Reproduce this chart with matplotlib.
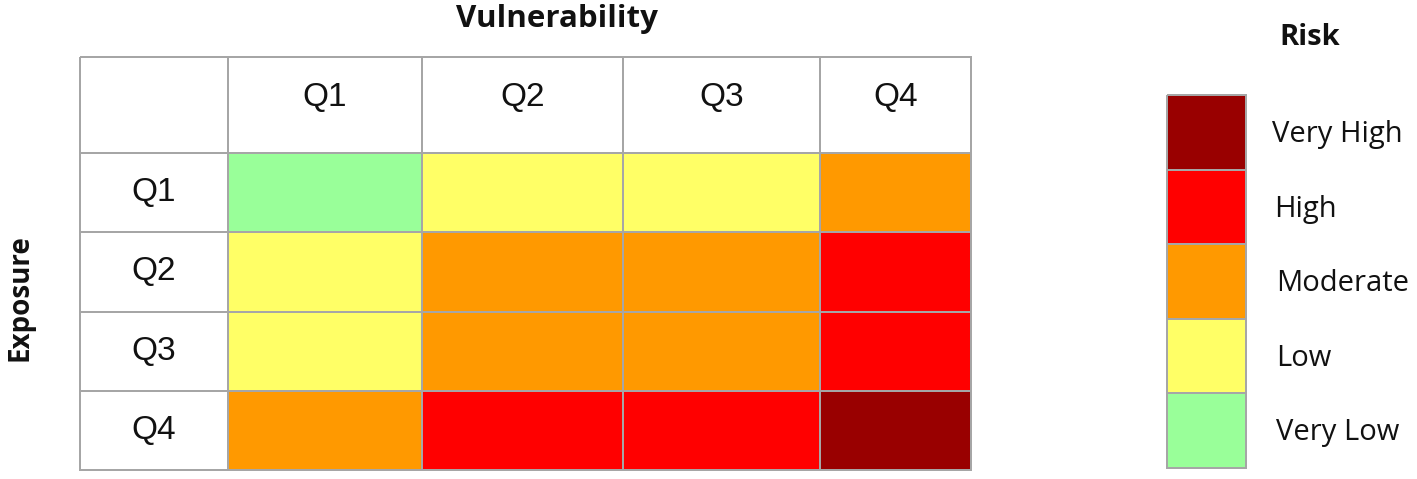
import numpy as np
import matplotlib.pyplot as plt
from matplotlib.colors import ListedColormap

# Datos de la matriz de riesgo
vuln_labels = ["Q1", "Q2", "Q3", "Q4"]
expo_labels = ["Q1", "Q2", "Q3", "Q4"]
risk_levels = ["Very Low", "Low", "Moderate", "High", "Very High"]
risk_colors = ["#99FF99", "#FFFF66", "#FF9900", "#FF0000", "#990000"]
# filas = Exposure Q1..Q4, columnas = Vulnerability Q1..Q4 (indice en risk_levels)
risk_matrix = [
    [0, 1, 1, 2],
    [1, 2, 2, 3],
    [1, 2, 2, 3],
    [2, 3, 3, 4],
]

# Maquetación en píxeles de la figura
col_edges = [80, 228, 422, 623, 820, 971]
row_edges = [57, 153, 232, 312, 391, 470]
leg_x = [1167, 1246]
leg_y = [95, 170, 244, 319, 393, 468]
grid_color = "#A6A6A6"
q_font = "Liberation Sans"
txt_font = "Open Sans"

fig = plt.figure(figsize=(14.17, 4.79), dpi=100)
ax = fig.add_axes([0, 0, 1, 1])
ax.set_xlim(0, 1417)
ax.set_ylim(479, 0)
ax.axis("off")

# Tabla completa: -1 = celda de cabecera (blanca)
full = np.full((5, 5), -1)
full[1:, 1:] = np.array(risk_matrix)
cmap = ListedColormap(["white"] + risk_colors)
ax.pcolormesh(col_edges, row_edges, full, cmap=cmap, vmin=-1.5, vmax=4.5,
              edgecolors=grid_color, linewidth=1.4)

cx = [(a + b) / 2 for a, b in zip(col_edges[:-1], col_edges[1:])]
cy = [(a + b) / 2 for a, b in zip(row_edges[:-1], row_edges[1:])]
for i, lab in enumerate(vuln_labels):
    ax.text(cx[i + 1], cy[0] - 8, lab, ha="center", va="center",
            fontsize=24, family=q_font, color="#111111")
for i, lab in enumerate(expo_labels):
    ax.text(cx[0], cy[i + 1], lab, ha="center", va="center",
            fontsize=24, family=q_font, color="#111111")

ax.text(557, 19, "Vulnerability", ha="center", va="center", fontsize=22.5,
        fontweight="bold", family=txt_font, color="#111111")
ax.text(20, 298, "Exposure", ha="center", va="center", fontsize=20,
        fontweight="bold", family=txt_font, rotation=90, color="#111111")

# Leyenda de riesgo (de Very High arriba a Very Low abajo)
leg_vals = np.arange(len(risk_levels))[::-1].reshape(-1, 1)
ax.pcolormesh(leg_x, leg_y, leg_vals, cmap=ListedColormap(risk_colors),
              vmin=-0.5, vmax=4.5, edgecolors=grid_color, linewidth=1.4)
ly = [(a + b) / 2 for a, b in zip(leg_y[:-1], leg_y[1:])]
for k, (y, v) in enumerate(zip(ly, leg_vals[:, 0])):
    ax.text(1272 + min(k, 2) * 2, y + 2, risk_levels[v], ha="left",
            va="center", fontsize=21, family=txt_font, color="#111111")
ax.text(1310, 37, "Risk", ha="center", va="center", fontsize=21,
        fontweight="bold", family=txt_font, color="#111111")

fig.savefig("out.png", dpi=100)
